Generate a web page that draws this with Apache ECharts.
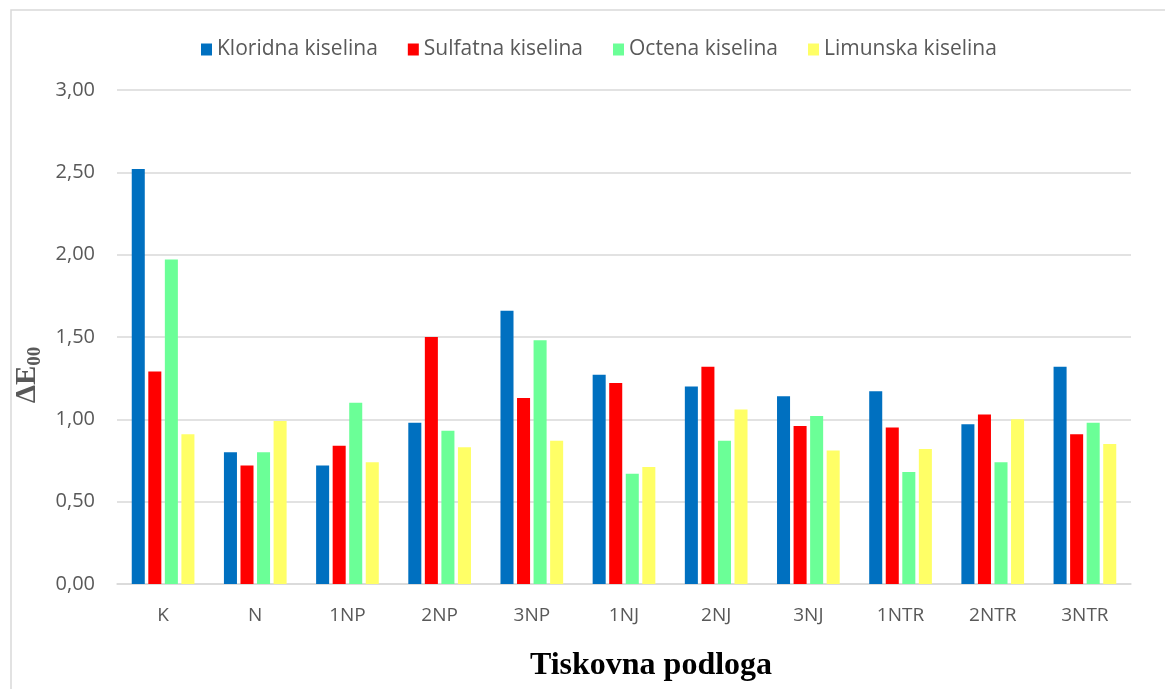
<!DOCTYPE html>
<html>
<head>
<meta charset="utf-8">
<script src="https://cdn.jsdelivr.net/npm/echarts@6/dist/echarts.min.js"></script>
<style>
  html, body { margin: 0; padding: 0; background: #fff; }
  #mainchart { width: 1165px; height: 689px; }
</style>
</head>
<body>
<div id="mainchart"></div>
<script>
var categories = ['K', 'N', '1NP', '2NP', '3NP', '1NJ', '2NJ', '3NJ', '1NTR', '2NTR', '3NTR'];
var seriesNames = ['Kloridna kiselina', 'Sulfatna kiselina', 'Octena kiselina', 'Limunska kiselina'];
var kloridna = [2.52, 0.80, 0.72, 0.98, 1.66, 1.27, 1.20, 1.14, 1.17, 0.97, 1.32];
var sulfatna = [1.29, 0.72, 0.84, 1.50, 1.13, 1.22, 1.32, 0.96, 0.95, 1.03, 0.91];
var octena = [1.97, 0.80, 1.10, 0.93, 1.48, 0.67, 0.87, 1.02, 0.68, 0.74, 0.98];
var limunska = [0.91, 0.99, 0.74, 0.83, 0.87, 0.71, 1.06, 0.81, 0.82, 1.00, 0.85];
var colors = ['#0070C0', '#FF0000', '#6BFF97', '#FFFF66'];

function drawChart() {
	var chart = echarts.init(document.getElementById('mainchart'));
	var values = [kloridna, sulfatna, octena, limunska];
	var series = [];
	for (var i = 0; i < seriesNames.length; i++) {
		series.push({
			name: seriesNames[i],
			type: 'bar',
			barGap: '27%',
			barCategoryGap: '32%',
			itemStyle: { color: colors[i] },
			data: values[i]
		});
	}
	var option = {
		animation: false,
		color: colors,
		textStyle: { fontFamily: 'Open Sans' },
		graphic: [{
			type: 'rect',
			shape: { x: 11, y: 10, width: 1200, height: 720 },
			style: { fill: 'none', stroke: '#d9d9d9', lineWidth: 1.5 },
			silent: true
		}],
		legend: {
			top: 34,
			left: 196,
			itemWidth: 11,
			itemHeight: 12,
			itemGap: 30,
			icon: 'rect',
			textStyle: { color: '#595959', fontSize: 21, fontFamily: 'Open Sans' },
			data: seriesNames
		},
		grid: {
			left: 117,
			right: 34,
			top: 90,
			bottom: 105,
			outerBoundsMode: 'none'
		},
		xAxis: {
			type: 'category',
			data: categories,
			name: 'Tiskovna podloga',
			nameLocation: 'middle',
			nameGap: 66,
			nameTextStyle: { fontFamily: 'Liberation Serif', fontWeight: 'bold', fontSize: 32, color: '#000', padding: [0, 0, 0, 54] },
			axisLine: { lineStyle: { color: '#d9d9d9', width: 1.5 } },
			axisTick: { show: false },
			axisLabel: { color: '#595959', fontSize: 19, margin: 22 }
		},
		yAxis: {
			type: 'value',
			min: 0,
			max: 3,
			interval: 0.5,
			name: '{d|ΔE}{s|00}',
			nameLocation: 'middle',
			nameGap: 57,
			nameTextStyle: {
				padding: [0, 76, 0, 0],
				rich: {
					d: { fontFamily: 'Liberation Serif', fontWeight: 'bold', fontSize: 29, color: '#595959' },
					s: { fontFamily: 'Liberation Serif', fontWeight: 'bold', fontSize: 19, color: '#595959', padding: [15, 0, 0, 0] }
				}
			},
			axisLine: { show: false },
			axisTick: { show: false },
			splitLine: { lineStyle: { color: '#d9d9d9', width: 1.5 } },
			axisLabel: {
				color: '#595959',
				fontSize: 20,
				margin: 22,
				formatter: function (v) { return v.toFixed(2).replace('.', ','); }
			}
		},
		series: series
	};
	chart.setOption(option);
}
drawChart();
</script>
</body>
</html>
